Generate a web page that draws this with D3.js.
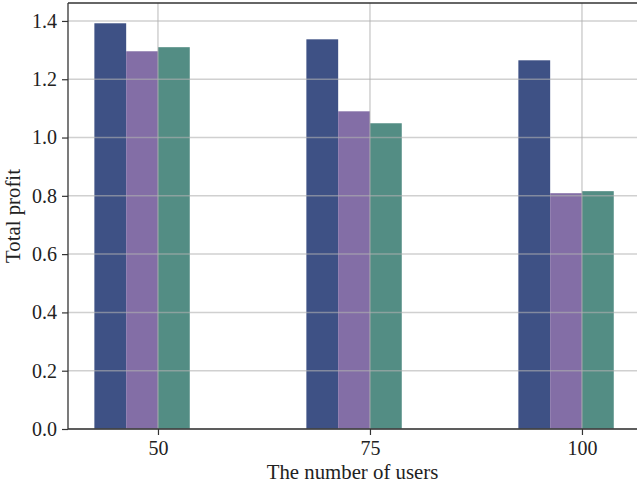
<!DOCTYPE html>
<html>
<head>
<meta charset="utf-8">
<script src="https://cdn.jsdelivr.net/npm/d3@7"></script>
<style>
  html, body { margin: 0; padding: 0; background: #fff; }
  svg { display: block; }
  text { font-family: "Liberation Serif", "Times New Roman", serif; fill: #222; }
</style>
</head>
<body>
<svg id="chart" width="637" height="488"></svg>
<script>
// Number of users per group and the profit of each method
const users = [50, 75, 100];
const seriesA = [1.392, 1.337, 1.265];
const seriesB = [1.296, 1.090, 0.809];
const seriesC = [1.310, 1.049, 0.816];
const seriesColors = ["#3e5185", "#836ea6", "#538d84"];
const yTicks = [0.0, 0.2, 0.4, 0.6, 0.8, 1.0, 1.2, 1.4];

const series = [seriesA, seriesB, seriesC];
const barWidth = 3.75;               // in data units along x
// left edges of each series relative to the group value
const edgeOffsets = [-2 * barWidth, -barWidth, 0];

const W = 637, H = 488;
const margin = { left: 68, right: 0, top: 3, bottom: 59 };
const svg = d3.select("#chart");

const x = d3.scaleLinear()
  .domain([39.39, 106.49])
  .range([margin.left, W - margin.right]);
const y = d3.scaleLinear()
  .domain([0, 1.4616])
  .range([H - margin.bottom, margin.top]);

// Bars
const bars = svg.append("g");
series.forEach((vals, si) => {
  bars.selectAll(null)
    .data(users.map((u, i) => ({ u, v: vals[i] })))
    .enter().append("rect")
    .attr("x", d => x(d.u + edgeOffsets[si]))
    .attr("width", d => x(d.u + edgeOffsets[si] + barWidth) - x(d.u + edgeOffsets[si]))
    .attr("y", d => y(d.v))
    .attr("height", d => y(0) - y(d.v))
    .attr("fill", seriesColors[si]);
});

// Grid drawn above the bars
const grid = svg.append("g")
  .attr("stroke", "#b0b0b0")
  .attr("stroke-opacity", 0.6)
  .attr("stroke-width", 1.5);
grid.selectAll(null).data(yTicks).enter().append("line")
  .attr("x1", margin.left).attr("x2", W - margin.right)
  .attr("y1", d => y(d)).attr("y2", d => y(d));
grid.selectAll(null).data(users).enter().append("line")
  .attr("y1", margin.top).attr("y2", H - margin.bottom)
  .attr("x1", d => x(d)).attr("x2", d => x(d));

// Axes
const xAxis = d3.axisBottom(x).tickValues(users).tickSize(6).tickPadding(6).tickFormat(d3.format("d"));
const yAxis = d3.axisLeft(y).tickValues(yTicks).tickSize(6).tickPadding(5).tickFormat(d3.format(".1f"));

const gx = svg.append("g").attr("transform", `translate(0,${H - margin.bottom})`).call(xAxis);
const gy = svg.append("g").attr("transform", `translate(${margin.left},0)`).call(yAxis);
[gx, gy].forEach(g => {
  g.attr("font-size", null).attr("font-family", null);
  g.select(".domain").remove();
  g.selectAll(".tick line").attr("stroke", "#333").attr("stroke-width", 1.2);
  g.selectAll(".tick text").attr("font-size", 20).attr("fill", "#222")
    .style("font-family", "'Liberation Serif', serif");
});

// Spines
const spines = svg.append("g").attr("stroke", "#333").attr("stroke-width", 1.3).attr("fill", "none");
spines.append("line").attr("x1", margin.left).attr("x2", margin.left).attr("y1", margin.top).attr("y2", H - margin.bottom);
spines.append("line").attr("x1", margin.left).attr("x2", W).attr("y1", H - margin.bottom).attr("y2", H - margin.bottom);
spines.append("line").attr("x1", margin.left).attr("x2", W).attr("y1", margin.top).attr("y2", margin.top);

// Axis titles
svg.append("text")
  .attr("x", (margin.left + W - margin.right) / 2)
  .attr("y", 479)
  .attr("text-anchor", "middle")
  .attr("font-size", 20.8)
  .text("The number of users");
svg.append("text")
  .attr("transform", `translate(20,${(margin.top + H - margin.bottom) / 2}) rotate(-90)`)
  .attr("text-anchor", "middle")
  .attr("font-size", 20.8)
  .text("Total profit");
</script>
</body>
</html>
